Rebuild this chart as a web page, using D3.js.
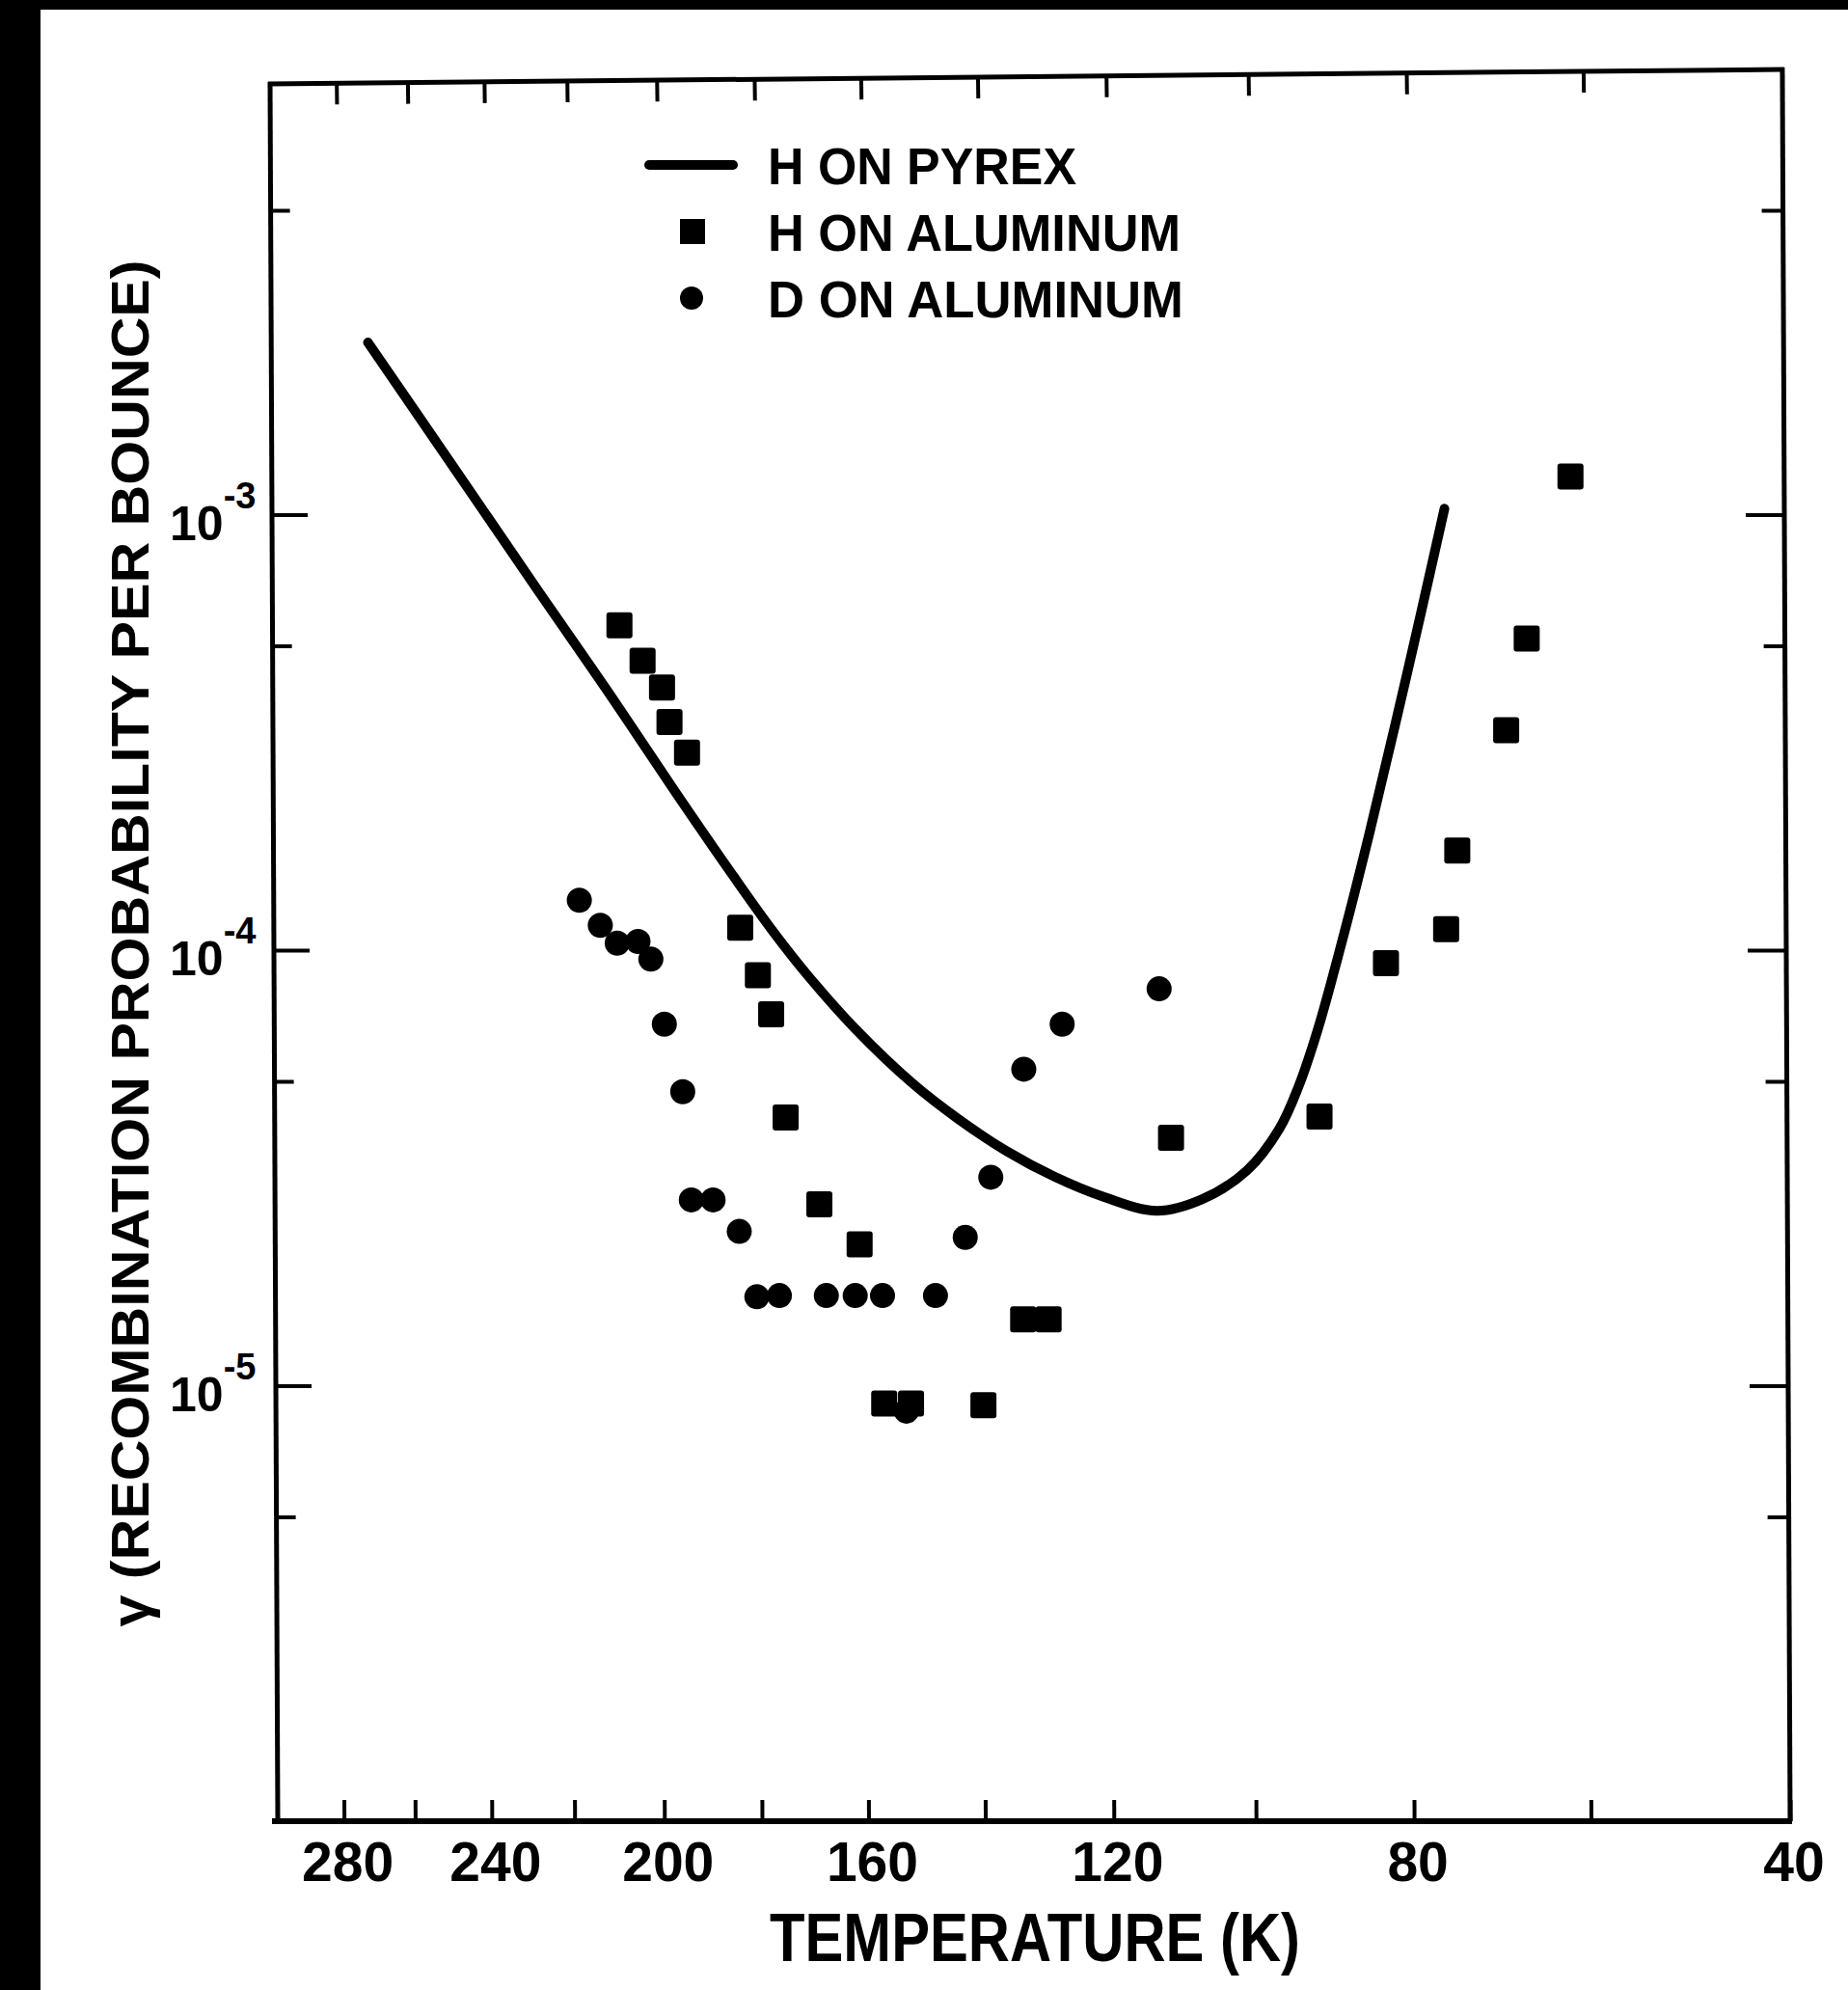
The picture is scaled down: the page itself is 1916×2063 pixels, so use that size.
<!DOCTYPE html>
<html>
<head>
<meta charset="utf-8">
<script src="https://cdn.jsdelivr.net/npm/d3@7"></script>
<style>
html,body{margin:0;padding:0;background:#000;}
svg{display:block;}
text{font-family:"Liberation Sans",Arial,sans-serif;font-weight:bold;fill:#000;}
</style>
</head>
<body>
<svg id="chart" width="1916" height="2063"></svg>
<script>
// values
const pyrexT = [273.1, 249.9, 228.2, 212.5, 197.8, 185.75, 178.1, 170.7, 162.4, 152.2, 144.5, 136.6, 129.0, 121.7, 113.7, 107.3, 101.2, 96.9, 94.4, 91.9, 88.6, 85.4, 82.3, 79.2, 76.4];
const pyrexGamma = [2.485e-3, 1.29e-3, 6.6e-4, 3.94e-4, 2.32e-4, 1.483e-4, 1.115e-4, 8.61e-5, 6.60e-5, 4.94e-5, 4.10e-5, 3.46e-5, 3.02e-5, 2.72e-5, 2.52e-5, 2.68e-5, 3.12e-5, 3.89e-5, 4.86e-5, 6.59e-5, 1.089e-4, 1.865e-4, 3.28e-4, 5.92e-4, 1.032e-3];

const hAlT = [209.8, 204.7, 200.5, 198.9, 195.2, 184.3, 180.8, 178.2, 175.4, 169.0, 161.6, 157.2, 152.5, 140.3, 133.9, 129.9, 111.7, 91.7, 83.4, 76.2, 74.9, 69.3, 67.0, 62.2];
const hAlGamma = [5.57e-4, 4.62e-4, 4.01e-4, 3.34e-4, 2.84e-4, 1.126e-4, 8.76e-5, 7.12e-5, 4.13e-5, 2.61e-5, 2.11e-5, 9.1e-6, 9.1e-6, 9.02e-6, 1.42e-5, 1.42e-5, 3.71e-5, 4.15e-5, 9.34e-5, 1.117e-4, 1.694e-4, 3.20e-4, 5.19e-4, 1.223e-3];

const dAlT = [218.9, 214.1, 210.3, 205.7, 202.9, 200.0, 196.1, 194.3, 189.8, 184.5, 181.0, 176.6, 167.7, 162.4, 157.5, 148.3, 143.3, 139.1, 133.8, 127.8, 113.4, 153.3];
const dAlGamma = [1.302e-4, 1.140e-4, 1.038e-4, 1.047e-4, 9.54e-5, 6.76e-5, 4.73e-5, 2.67e-5, 2.67e-5, 2.26e-5, 1.60e-5, 1.61e-5, 1.61e-5, 1.61e-5, 1.61e-5, 1.61e-5, 2.19e-5, 3.01e-5, 5.33e-5, 6.76e-5, 8.15e-5, 8.74e-6];

const xTicks = [280, 260, 240, 220, 200, 180, 160, 140, 120, 100, 80, 60, 40];
const xTickLabels = [280, 240, 200, 160, 120, 80, 40];
const yMajor = [1e-3, 1e-4, 1e-5];
const yMinor = [5e-3, 5e-4, 5e-5, 5e-6];
const legendLabels = ["H ON PYREX", "H ON ALUMINUM", "D ON ALUMINUM"];

const W = 1916, H = 2063;
const plot = {left: 288, right: 1856, top: 82, bottom: 1888};
const shear = 0.254;      // scan is slightly skewed
const topLeftY = 87;      // the top border of the scan slopes up to the right
const tilt = Math.atan2(-15, plot.right - plot.left) * 180 / Math.PI;

// the temperature axis is linear in 1/(T + 277)
const OFFSET = 277;
const inv = t => 1 / (t + OFFSET);
const xu = d3.scaleLinear().domain([inv(300), inv(40)]).range([plot.left, plot.right]);
const x = t => xu(inv(t));
const y = d3.scaleLog().domain([1e-6, 1e-2]).range([plot.bottom, plot.top]);

const svg = d3.select("#chart");
svg.append("rect").attr("width", W).attr("height", H).attr("fill", "#000");
svg.append("rect").attr("x", 42).attr("y", 10).attr("width", W - 42).attr("height", H - 10).attr("fill", "#fff");

const axes = svg.append("g")
	.attr("transform", `translate(0,${plot.bottom}) skewX(${shear}) translate(0,${-plot.bottom})`);

function tidy(g){
	g.select(".domain").remove();
	g.selectAll(".tick line").attr("stroke", "#000").attr("stroke-width", 4);
	g.selectAll(".tick text").remove();
}

axes.append("g").attr("transform", `translate(0,${plot.bottom})`)
	.call(d3.axisBottom(xu).tickValues(xTicks.map(inv)).tickSize(-22).tickSizeOuter(0))
	.call(tidy);

const topAxis = axes.append("g").attr("transform", `translate(0,${topLeftY}) rotate(${tilt},${plot.left},0)`);
topAxis.append("g")
	.call(d3.axisTop(xu).tickValues(xTicks.slice(0, -1).map(inv)).tickSize(-22).tickSizeOuter(0))
	.call(tidy);
topAxis.append("line").attr("x1", plot.left - 2).attr("x2", plot.right + 2).attr("y1", 0).attr("y2", 0)
	.attr("stroke", "#000").attr("stroke-width", 5);

axes.append("g").attr("transform", `translate(${plot.left},0)`)
	.call(d3.axisLeft(y).tickValues(yMajor).tickSize(-37).tickSizeOuter(0)).call(tidy);
axes.append("g").attr("transform", `translate(${plot.left},0)`)
	.call(d3.axisLeft(y).tickValues(yMinor).tickSize(-20).tickSizeOuter(0)).call(tidy);
axes.append("g").attr("transform", `translate(${plot.right},0)`)
	.call(d3.axisRight(y).tickValues(yMajor).tickSize(-40).tickSizeOuter(0)).call(tidy);
axes.append("g").attr("transform", `translate(${plot.right},0)`)
	.call(d3.axisRight(y).tickValues(yMinor).tickSize(-22).tickSizeOuter(0)).call(tidy);

// frame
axes.append("line").attr("x1", plot.left).attr("x2", plot.left).attr("y1", topLeftY - 2).attr("y2", plot.bottom)
	.attr("stroke", "#000").attr("stroke-width", 5);
axes.append("line").attr("x1", plot.right).attr("x2", plot.right).attr("y1", topLeftY - 17).attr("y2", plot.bottom)
	.attr("stroke", "#000").attr("stroke-width", 5);
axes.append("line").attr("x1", plot.left - 6).attr("x2", plot.right + 2).attr("y1", plot.bottom).attr("y2", plot.bottom)
	.attr("stroke", "#000").attr("stroke-width", 6);

// tick labels
svg.append("g").selectAll("text").data(xTickLabels).join("text")
	.attr("x", d => x(d) + 4)
	.attr("y", 1950)
	.attr("text-anchor", "middle")
	.attr("font-size", 57)
	.text(d => d);

const yl = svg.append("g").selectAll("text").data(yMajor).join("text")
	.attr("x", 176).attr("y", d => y(d) + 26)
	.attr("font-size", 50);
yl.append("tspan").text("10");
yl.append("tspan").attr("dx", 0).attr("dy", -33).attr("font-size", 38)
	.text(d => "-" + Math.round(-Math.log10(d)));

// axis titles
svg.append("text").attr("x", 1073).attr("y", 2033).attr("text-anchor", "middle")
	.attr("font-size", 70).attr("textLength", 550).attr("lengthAdjust", "spacingAndGlyphs")
	.text("TEMPERATURE (K)");
svg.append("text").attr("transform", "translate(154,978) rotate(-90)").attr("text-anchor", "middle")
	.attr("font-size", 56).attr("textLength", 1417).attr("lengthAdjust", "spacingAndGlyphs")
	.text("\u03b3 (RECOMBINATION PROBABILITY PER BOUNCE)");

// data
const pyrex = pyrexT.map((t, i) => ({t: t, g: pyrexGamma[i]}));
const line = d3.line().x(d => x(d.t)).y(d => y(d.g)).curve(d3.curveCatmullRom.alpha(0.5));
svg.append("path").datum(pyrex).attr("d", line)
	.attr("fill", "none").attr("stroke", "#000").attr("stroke-width", 10)
	.attr("stroke-linecap", "round").attr("stroke-linejoin", "round");

const sq = 27;
svg.append("g").selectAll("rect").data(hAlT.map((t, i) => ({t: t, g: hAlGamma[i]}))).join("rect")
	.attr("x", d => x(d.t) - sq / 2).attr("y", d => y(d.g) - sq / 2)
	.attr("width", sq).attr("height", sq).attr("rx", 3).attr("fill", "#000");

svg.append("g").selectAll("circle").data(dAlT.map((t, i) => ({t: t, g: dAlGamma[i]}))).join("circle")
	.attr("cx", d => x(d.t)).attr("cy", d => y(d.g)).attr("r", 13).attr("fill", "#000");

// legend
const legend = svg.append("g");
const rowY = [171, 240, 309];
legend.append("line").attr("x1", 673).attr("x2", 760).attr("y1", rowY[0]).attr("y2", rowY[0])
	.attr("stroke", "#000").attr("stroke-width", 10).attr("stroke-linecap", "round");
legend.append("rect").attr("x", 718 - 13).attr("y", rowY[1] - 13).attr("width", 26).attr("height", 26).attr("fill", "#000");
legend.append("circle").attr("cx", 717).attr("cy", rowY[2]).attr("r", 12).attr("fill", "#000");
const legendWidths = [320, 428, 431];
legend.selectAll("text").data(legendLabels).join("text")
	.attr("x", 796).attr("y", (d, i) => rowY[i] + 20)
	.attr("font-size", 54)
	.attr("textLength", (d, i) => legendWidths[i]).attr("lengthAdjust", "spacingAndGlyphs")
	.text(d => d);
</script>
</body>
</html>
